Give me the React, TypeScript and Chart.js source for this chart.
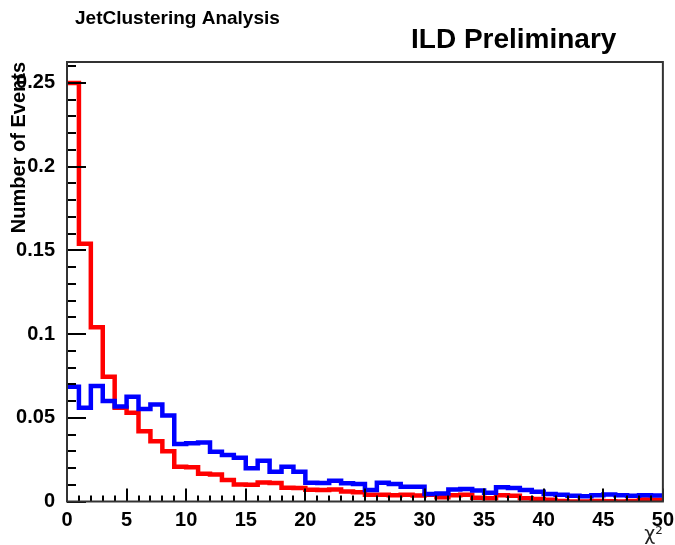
import React, { useEffect, useRef } from "react";
import { Chart, registerables } from "chart.js";

Chart.register(...registerables);

const FONT = "'Liberation Sans', Arial, Helvetica, sans-serif";

// Histogram: 50 bins of width 1 on [0, 50]
const BIN_LOW_EDGES = [
  0, 1, 2, 3, 4, 5, 6, 7, 8, 9, 10, 11, 12, 13, 14, 15, 16, 17, 18, 19, 20, 21, 22, 23, 24,
  25, 26, 27, 28, 29, 30, 31, 32, 33, 34, 35, 36, 37, 38, 39, 40, 41, 42, 43, 44, 45, 46, 47, 48, 49,
];
const X_MAX = 50;

const redValues = [
  0.25, 0.154, 0.104, 0.0745, 0.056, 0.053, 0.042, 0.036, 0.03, 0.0208,
  0.0205, 0.0165, 0.0162, 0.0128, 0.0102, 0.01, 0.0113, 0.011, 0.0082, 0.008,
  0.007, 0.0068, 0.0072, 0.006, 0.0055, 0.004, 0.004, 0.0038, 0.004, 0.0036,
  0.004, 0.0025, 0.0038, 0.004, 0.0022, 0.002, 0.0038, 0.0035, 0.002, 0.0015,
  0.001, 0.0003, 0.0, 0.0, 0.0003, 0.0002, 0.0, 0.0003, 0.0012, 0.001,
];

const blueValues = [
  0.0686, 0.056, 0.069, 0.06, 0.0567, 0.0626, 0.0553, 0.058, 0.0513, 0.0344,
  0.0348, 0.0352, 0.0297, 0.0278, 0.0262, 0.0198, 0.0244, 0.0178, 0.0208, 0.0178,
  0.0112, 0.011, 0.0124, 0.0109, 0.0105, 0.0069, 0.0112, 0.0105, 0.0088, 0.0088,
  0.0045, 0.0048, 0.0072, 0.0075, 0.0065, 0.0052, 0.0085, 0.008, 0.0068, 0.0058,
  0.0045, 0.004, 0.0035, 0.0032, 0.0038, 0.0042, 0.0038, 0.0035, 0.0038, 0.0036,
];

const xTickValues = [0, 5, 10, 15, 20, 25, 30, 35, 40, 45, 50];
const xTickLabels = ["0", "5", "10", "15", "20", "25", "30", "35", "40", "45", "50"];
const yTickValues = [0, 0.05, 0.1, 0.15, 0.2, 0.25];
const yTickLabels = ["0", "0.05", "0.1", "0.15", "0.2", "0.25"];
const Y_MAX = 0.2625;

const toStepPoints = (vals: number[]) => {
  const pts = BIN_LOW_EDGES.map((e, i) => ({ x: e, y: vals[i] }));
  pts.push({ x: X_MAX, y: vals[vals.length - 1] });
  return pts;
};

const framePlugin = {
  id: "rootFrame",
  afterDatasetsDraw(chart: any) {
    const { ctx, chartArea: a, scales } = chart;
    const x = scales.x;
    const y = scales.y;
    ctx.save();
    ctx.strokeStyle = "#000";
    ctx.lineWidth = 2;
    ctx.beginPath();
    for (let v = 0; v <= X_MAX; v += 1) {
      const len = v % 5 === 0 ? 13 : 6;
      const px = Math.round(x.getPixelForValue(v));
      ctx.moveTo(px, a.bottom);
      ctx.lineTo(px, a.bottom - len);
    }
    for (let i = 0; i <= 26; i++) {
      const v = i * 0.01;
      const len = i % 5 === 0 ? 19 : 9;
      const py = Math.round(y.getPixelForValue(v));
      ctx.moveTo(a.left, py);
      ctx.lineTo(a.left + len, py);
    }
    ctx.stroke();
    ctx.strokeStyle = "#333";
    ctx.lineWidth = 2;
    ctx.strokeRect(a.left, a.top, a.right - a.left, a.bottom - a.top);
    ctx.restore();
  },
  afterDraw(chart: any) {
    const { ctx } = chart;
    ctx.save();
    ctx.fillStyle = "#000";
    ctx.textBaseline = "alphabetic";
    ctx.textAlign = "left";
    ctx.font = `bold 19px ${FONT}`;
    ctx.fillText("JetClustering Analysis", 75, 24);
    ctx.font = `bold 28px ${FONT}`;
    ctx.fillText("ILD Preliminary", 411, 48);
    ctx.restore();
  },
};

export default function App() {
  const canvasRef = useRef<HTMLCanvasElement | null>(null);

  useEffect(() => {
    document.body.style.margin = "0";
    const canvas = canvasRef.current;
    if (!canvas) return;
    const chart = new Chart(canvas, {
      type: "line",
      data: {
        datasets: [
          {
            label: "blue",
            data: toStepPoints(blueValues),
            borderColor: "#0000ff",
            borderWidth: 4.5,
            stepped: "before",
            pointRadius: 0,
            fill: false,
            borderJoinStyle: "miter",
            borderCapStyle: "butt",
            order: 0,
          },
          {
            label: "red",
            data: toStepPoints(redValues),
            borderColor: "#ff0000",
            borderWidth: 4.5,
            stepped: "before",
            pointRadius: 0,
            fill: false,
            borderJoinStyle: "miter",
            borderCapStyle: "butt",
            order: 1,
          },
        ],
      },
      options: {
        animation: false,
        responsive: true,
        maintainAspectRatio: false,
        layout: { padding: { top: 62, right: 11, left: 0, bottom: 0 } },
        plugins: {
          legend: { display: false },
          tooltip: { enabled: false },
          title: { display: false },
        },
        scales: {
          x: {
            type: "linear",
            min: 0,
            max: X_MAX,
            afterFit: (s: any) => {
              s.height = 43.5;
            },
            afterBuildTicks: (s: any) => {
              s.ticks = xTickValues.map((v) => ({ value: v }));
            },
            ticks: {
              autoSkip: false,
              maxRotation: 0,
              padding: 1,
              color: "#000",
              font: { family: FONT, size: 20, weight: "bold", lineHeight: 1 },
              callback: (v: any) => {
                const i = xTickValues.indexOf(Number(v));
                return i >= 0 ? xTickLabels[i] : "";
              },
            },
            grid: { display: false },
            border: { display: false },
            title: {
              display: true,
              text: "χ²",
              align: "end",
              color: "#222",
              font: { family: "'DejaVu Sans', sans-serif", size: 19, lineHeight: 1 },
              padding: { top: 0, bottom: 0 },
            },
          },
          y: {
            type: "linear",
            min: 0,
            max: Y_MAX,
            afterFit: (s: any) => {
              s.width = 67;
            },
            afterBuildTicks: (s: any) => {
              s.ticks = yTickValues.map((v) => ({ value: v }));
            },
            ticks: {
              autoSkip: false,
              padding: 4,
              color: "#000",
              font: { family: FONT, size: 20, weight: "bold", lineHeight: 1 },
              callback: (v: any) => {
                const i = yTickValues.findIndex((t) => Math.abs(t - Number(v)) < 1e-9);
                return i >= 0 ? yTickLabels[i] : "";
              },
            },
            grid: { display: false },
            border: { display: false },
            title: {
              display: true,
              text: "Number of Events",
              align: "end",
              color: "#000",
              font: { family: FONT, size: 20, weight: "bold", lineHeight: 1.2 },
              padding: { top: 7, bottom: 0 },
            },
          },
        },
      },
      plugins: [framePlugin],
    } as any);
    return () => chart.destroy();
  }, []);

  return (
    <div style={{ width: 675, height: 545, position: "relative", background: "#fff" }}>
      <canvas ref={canvasRef} />
    </div>
  );
}
